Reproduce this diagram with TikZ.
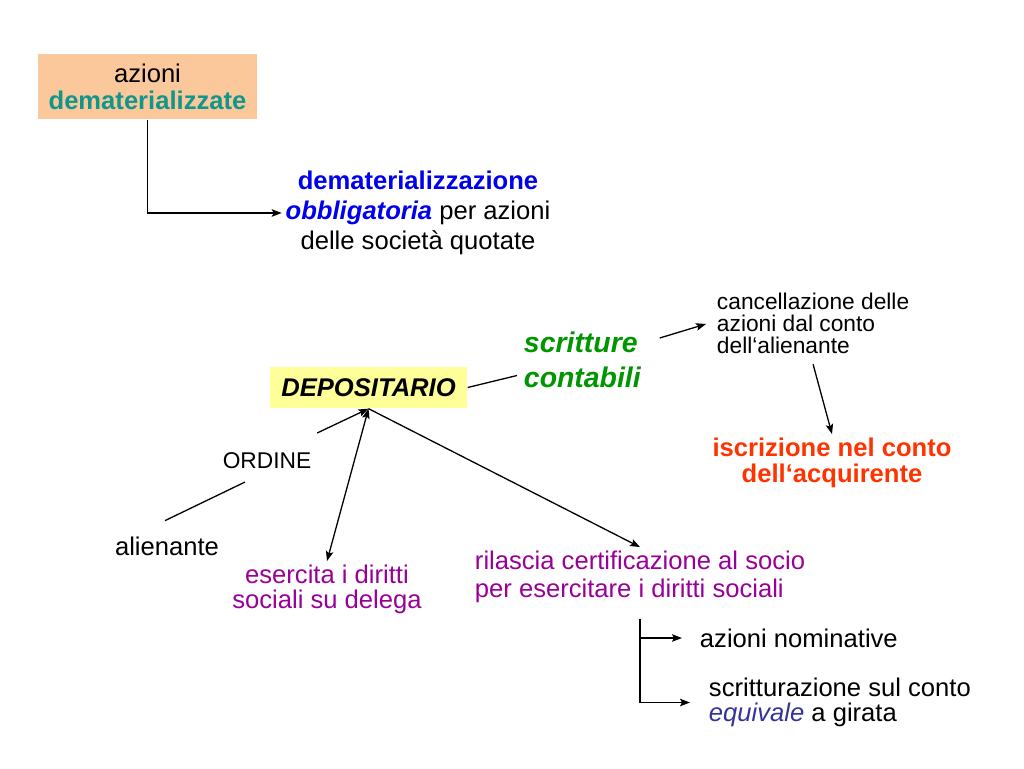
\documentclass[tikz,border=0pt]{standalone}
\usepackage{fontspec}
\setmainfont{Liberation Sans}
\usetikzlibrary{arrows.meta,calc}
\definecolor{peach}{RGB}{250,200,155}
\definecolor{myyellow}{RGB}{255,255,153}
\definecolor{myteal}{RGB}{17,150,140}
\definecolor{myblue}{RGB}{0,0,238}
\definecolor{mygreen}{RGB}{0,150,0}
\definecolor{myred}{RGB}{255,51,0}
\definecolor{mypurple}{RGB}{153,0,153}
\definecolor{mydblue}{RGB}{51,51,153}
\newcommand\myfs[2]{\fontsize{#1}{#2}\selectfont}
\begin{document}
\begin{tikzpicture}[x=1pt,y=-1pt,line width=1.3pt,
  arr/.style={-{Stealth[length=10pt,width=7.5pt,inset=2pt]}},
  darr/.style={{Stealth[length=10pt,width=7.5pt,inset=2pt]}-{Stealth[length=10pt,width=7.5pt,inset=2pt]}}]
\useasboundingbox (0,0) rectangle (1024,768);
\fill[white] (0,0) rectangle (1024,768);

% nodes
\node[fill=peach, minimum width=219pt, minimum height=65pt, align=center,
      font=\myfs{25.6}{27}] (az) at (147.5,86.5)
      {azioni\\\textcolor{myteal}{\bfseries dematerializzate}};
\node[align=center, font=\myfs{25.6}{30}] (dem) at (418,213)
      {\textcolor{myblue}{\bfseries dematerializzazione}\\
       \textcolor{myblue}{\bfseries\itshape obbligatoria} per azioni\\
       delle società quotate};
\node[fill=myyellow, minimum width=197pt, minimum height=41pt,
      font=\myfs{25.6}{30}\bfseries\itshape] (dep) at (368.5,387.5) {DEPOSITARIO};
\node[align=left, anchor=west, text=mygreen,
      font=\myfs{28.4}{35}\bfseries\itshape] (sc) at (520,359.5) {scritture\\contabili};
\node[align=left, anchor=west, font=\myfs{22.75}{22}] (canc) at (713,323)
      {cancellazione delle\\azioni dal conto\\dell‘alienante};
\node[align=center, text=myred, font=\myfs{25.6}{26}\bfseries] (iscr) at (832,463)
      {iscrizione nel conto\\dell‘acquirente};
\node[font=\myfs{22.75}{24}] (ord) at (267,461) {ORDINE};
\node[font=\myfs{25.6}{28}] (ali) at (167,546) {alienante};
\node[align=center, text=mypurple, font=\myfs{25.6}{25}] (eser) at (327,589.5)
      {esercita i diritti\\sociali su delega};
\node[align=left, anchor=west, text=mypurple, font=\myfs{25.6}{28}] (ril) at (471,577)
      {rilascia certificazione al socio\\per esercitare i diritti sociali};
\node[anchor=west, font=\myfs{25.6}{28}] (nom) at (696,638) {azioni nominative};
\node[align=left, anchor=west, font=\myfs{25.6}{25}] (scr) at (705,702.5)
      {scritturazione sul conto\\\textcolor{mydblue}{\itshape equivale} a girata};

% connectors
\draw[arr] (az.south) |- (dem.west);
\draw (dep.east) -- ($(sc.west)+(-3,16)$);
\draw[arr] ($(sc.east)+(15,-21.5)$) -- ($(canc.west)+(-7,1)$);
\draw[arr] ($(canc.south)+(0,7)$) -- (iscr.north);
\draw ($(ali.north)+(-2,-12)$) -- ($(ord.south)+(-22,9)$);
\draw[arr] ($(ord.north east)+(2,-16)$) -- (dep.south);
\draw[darr] (dep.south) -- (eser.north);
\draw[arr] (dep.south) -- (ril.north);
\coordinate (b0) at ($(ril.south)+(0,12)$);
\draw[arr, shorten >=14pt] (b0) |- (nom.west);
\draw[arr, shorten >=15pt] (b0) |- (scr.west);
\end{tikzpicture}
\end{document}
